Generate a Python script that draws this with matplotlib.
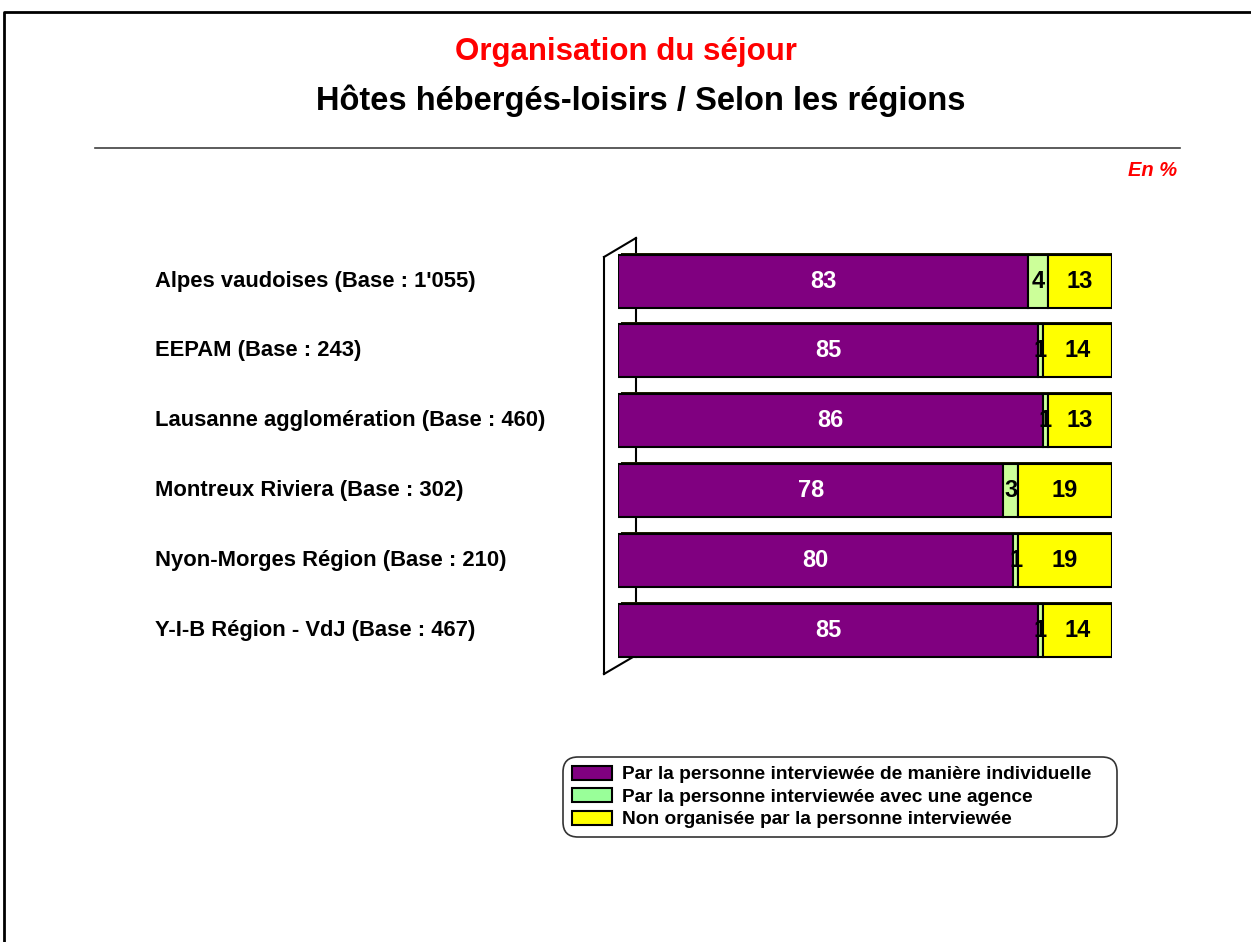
import matplotlib
matplotlib.use('Agg')
import matplotlib.pyplot as plt
from matplotlib.patches import Patch
from matplotlib.lines import Line2D
from matplotlib import transforms
import numpy as np

plt.rcParams['font.family'] = ['Liberation Sans', 'DejaVu Sans']
plt.rcParams['font.weight'] = 'bold'

regions = ["Alpes vaudoises (Base : 1'055)", "EEPAM (Base : 243)",
           "Lausanne agglomération (Base : 460)", "Montreux Riviera (Base : 302)",
           "Nyon-Morges Région (Base : 210)", "Y-I-B Région - VdJ (Base : 467)"]
individuelle = [83, 85, 86, 78, 80, 85]
agence = [4, 1, 1, 3, 1, 1]
non_organisee = [13, 14, 13, 19, 19, 14]
series_names = ["Par la personne interviewée de manière individuelle",
                "Par la personne interviewée avec une agence",
                "Non organisée par la personne interviewée"]

W, H = 1251, 942
fig = plt.figure(figsize=(W / 100, H / 100), dpi=100)

def px(x, y):
    # pixel coords (from top-left) -> figure fraction
    return x / W, 1 - y / H

# page frame (left + top)
fig.add_artist(Line2D([4 / W, 4 / W, 1], [0, 1 - 12 / H, 1 - 12 / H],
                      transform=fig.transFigure, color='black', lw=2))

fig.text(626 / W, 1 - 52 / H, "Organisation du séjour", color='red',
         fontsize=22.5, fontweight='bold', ha='center', va='center')
fig.text(641 / W, 1 - 101 / H, "Hôtes hébergés-loisirs / Selon les régions",
         color='black', fontsize=23.5, fontweight='bold', ha='center', va='center')
fig.add_artist(Line2D([95 / W, 1180 / W], [1 - 148 / H] * 2,
                      transform=fig.transFigure, color='#404040', lw=1.2))
fig.text(1177 / W, 1 - 170 / H, "En %", color='red', fontsize=14.5,
         fontweight='bold', fontstyle='italic', ha='right', va='center')

# 3D wall behind the bars
wall = [((604, 674), (604, 257)), ((604, 257), (636, 238)),
        ((636, 238), (636, 657)), ((604, 674), (633, 657))]
for (x0, y0), (x1, y1) in wall:
    a, b = px(x0, y0), px(x1, y1)
    fig.add_artist(Line2D([a[0], b[0]], [a[1], b[1]], transform=fig.transFigure,
                          color='black', lw=1.5, zorder=0))

# axes: 0..100 spans x 618..1112, rows centred 281..630
row = (630 - 281) / 5
ax_top = 281 - row / 2
ax_bot = 630 + row / 2
ax = fig.add_axes([618 / W, 1 - ax_bot / H, (1112 - 618) / W, (ax_bot - ax_top) / H])
ax.set_xlim(0, 100)
ax.set_ylim(len(regions) - 0.5, -0.5)
ax.axis('off')
ax.patch.set_alpha(0)

y = np.arange(len(regions))
ind = np.array(individuelle)
ag = np.array(agence)
no = np.array(non_organisee)
hb = 53 / row

# depth shading
shadow = transforms.offset_copy(ax.transData, fig=fig, x=3, y=2, units='dots')
ax.barh(y, ind + ag + no, height=hb, color='#202000', transform=shadow, zorder=1)

colors = ['#800080', '#CCFF99', '#FFFF00']
lefts = [np.zeros(len(y)), ind, ind + ag]
for vals, left, c in zip([ind, ag, no], lefts, colors):
    ax.barh(y, vals, left=left, height=hb, color=c, edgecolor='black', lw=1.5, zorder=2)

for i in y:
    ax.text(ind[i] / 2, i, str(ind[i]), color='white', fontsize=17,
            fontweight='bold', ha='center', va='center', zorder=3)
    ax.text(ind[i] + ag[i] / 2, i, str(ag[i]), color='black', fontsize=17,
            fontweight='bold', ha='center', va='center', zorder=3)
    ax.text(ind[i] + ag[i] + no[i] / 2, i, str(no[i]), color='black', fontsize=17,
            fontweight='bold', ha='center', va='center', zorder=3)

lab_tr = transforms.blended_transform_factory(fig.transFigure, ax.transData)
for i, name in enumerate(regions):
    fig.text(155 / W, i, name, transform=lab_tr, fontsize=15.8,
             fontweight='bold', ha='left', va='center')

handles = [Patch(facecolor=c, edgecolor='black', lw=1.5)
           for c in ['#800080', '#99FF99', '#FFFF00']]
leg = fig.legend(handles, series_names, loc='upper left', mode='expand',
                 bbox_to_anchor=(563 / W, 1 - 836 / H, 554 / W, 79 / H), fontsize=13.8,
                 frameon=True, fancybox=True, edgecolor='black',
                 handlelength=2.1, handleheight=0.75, handletextpad=0.55,
                 labelspacing=0.25, borderpad=0.45, borderaxespad=0)
leg.get_frame().set_linewidth(1.2)
leg.get_frame().set_boxstyle('round,pad=0,rounding_size=0.8')

fig.savefig('out.png', dpi=100)
